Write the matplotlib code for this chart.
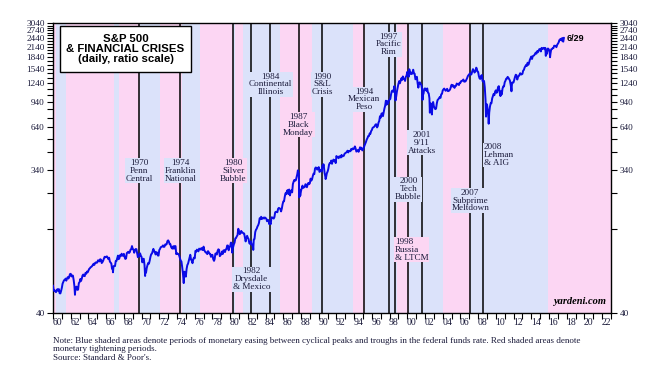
import numpy as np
import matplotlib
matplotlib.use("Agg")
import matplotlib.pyplot as plt
import matplotlib.ticker as mticker
import matplotlib.transforms as mtransforms
from matplotlib.patches import Rectangle

plt.rcParams['font.family'] = ['Liberation Serif', 'DejaVu Serif']

# S&P 500 month-end closes, Jan 1960 .. Jun 2017 (last one is 6/29)
sp500_first = 59.89  # Dec 31, 1959
sp500_monthly = [
    55.6, 56.1, 55.3, 54.4, 55.8, 56.9, 55.5, 56.9, 53.5, 53.4, 55.5, 58.1,
    61.8, 63.4, 65.1, 65.3, 66.6, 64.6, 66.8, 68.1, 66.7, 68.6, 71.3, 71.6,
    68.8, 69.9, 69.6, 65.2, 59.6, 54.8, 58.2, 59.1, 56.3, 56.5, 62.3, 63.1,
    66.2, 64.3, 66.6, 69.8, 70.8, 69.4, 69.1, 72.5, 71.7, 74.0, 73.2, 75.0,
    77.0, 77.8, 79.0, 79.5, 80.4, 81.7, 83.2, 81.8, 84.2, 84.9, 84.4, 84.8,
    87.6, 87.4, 86.2, 89.1, 88.4, 84.1, 85.3, 87.2, 90.0, 92.4, 91.6, 92.4,
    92.9, 91.2, 89.2, 91.1, 86.1, 84.7, 83.6, 77.1, 76.6, 80.2, 80.5, 80.3,
    86.6, 86.8, 90.2, 94.0, 89.1, 90.6, 94.8, 93.6, 96.7, 93.9, 94.0, 96.5,
    92.2, 89.4, 90.2, 97.6, 98.7, 99.6, 97.7, 98.9, 102.7, 103.4, 108.4, 103.9,
    103.0, 98.1, 101.5, 103.7, 103.5, 97.7, 91.8, 95.5, 93.1, 97.2, 93.8, 92.1,
    85.0, 89.5, 89.6, 81.5, 76.6, 72.7, 78.1, 81.5, 84.2, 83.3, 87.2, 92.2,
    95.9, 96.8, 100.3, 104.0, 99.6, 99.7, 95.6, 99.0, 98.3, 94.2, 94.0, 102.1,
    103.9, 106.6, 107.2, 107.7, 109.5, 107.1, 107.4, 111.1, 110.6, 111.6, 116.7, 118.1,
    116.0, 111.7, 111.5, 107.0, 105.0, 104.3, 108.2, 104.3, 108.4, 108.3, 96.0, 97.6,
    96.6, 96.2, 94.0, 90.3, 87.3, 86.0, 79.3, 72.2, 63.5, 73.9, 70.0, 68.6,
    77.0, 81.6, 83.4, 87.3, 91.2, 95.2, 88.8, 86.9, 83.9, 89.0, 91.2, 90.2,
    100.9, 99.7, 102.8, 101.6, 100.2, 104.3, 103.4, 102.9, 105.2, 102.9, 102.1, 107.5,
    102.0, 99.8, 98.4, 98.4, 96.1, 100.5, 98.9, 96.8, 96.5, 92.3, 94.8, 95.1,
    89.3, 87.0, 89.2, 96.8, 97.2, 95.5, 100.7, 103.3, 102.5, 93.2, 94.7, 96.1,
    99.9, 96.3, 101.6, 101.8, 99.1, 102.9, 103.8, 109.3, 109.3, 101.8, 106.2, 107.9,
    114.2, 113.7, 102.1, 106.3, 111.2, 114.2, 121.7, 122.4, 125.5, 127.5, 140.5, 135.8,
    129.6, 131.3, 136.0, 132.8, 132.6, 131.2, 130.9, 122.8, 116.2, 121.9, 126.4, 122.6,
    120.4, 113.1, 112.0, 116.4, 111.9, 109.6, 107.1, 119.5, 120.4, 133.7, 138.5, 140.6,
    145.3, 148.1, 153.0, 164.4, 162.4, 168.1, 162.6, 164.4, 166.1, 163.6, 166.4, 164.9,
    163.4, 157.1, 159.2, 160.1, 150.6, 153.2, 150.7, 166.7, 166.1, 166.1, 163.6, 167.2,
    179.6, 181.2, 180.7, 179.8, 189.6, 191.9, 190.9, 188.6, 182.1, 189.8, 202.2, 211.3,
    211.8, 226.9, 238.9, 235.5, 247.4, 250.8, 236.1, 252.9, 231.3, 244.0, 249.2, 242.2,
    274.1, 284.2, 291.7, 288.4, 290.1, 304.0, 318.7, 329.8, 321.8, 251.8, 230.3, 247.1,
    257.1, 267.8, 258.9, 261.3, 262.2, 273.5, 272.0, 261.5, 271.9, 279.0, 273.7, 277.7,
    297.5, 288.9, 294.9, 309.6, 320.5, 318.0, 346.1, 351.5, 349.2, 340.4, 346.0, 353.4,
    329.1, 331.9, 339.9, 330.8, 361.2, 358.0, 356.2, 322.6, 306.1, 304.0, 322.2, 330.2,
    343.9, 367.1, 375.2, 375.4, 389.8, 371.2, 387.8, 395.4, 387.9, 392.5, 375.2, 417.1,
    408.8, 412.7, 403.7, 415.0, 415.4, 408.1, 424.2, 414.0, 417.8, 418.7, 431.4, 435.7,
    438.8, 443.4, 451.7, 440.2, 450.2, 450.5, 448.1, 463.6, 458.9, 467.8, 461.8, 466.5,
    481.6, 467.1, 445.8, 450.9, 456.5, 444.3, 458.3, 475.5, 462.7, 472.4, 453.7, 459.3,
    470.4, 487.4, 500.7, 514.7, 533.4, 544.8, 562.1, 561.9, 584.4, 581.5, 605.4, 615.9,
    636.0, 640.4, 645.5, 654.2, 669.1, 670.6, 640.0, 652.0, 687.3, 705.3, 757.0, 740.7,
    786.2, 790.8, 757.1, 801.3, 848.3, 885.1, 954.3, 899.5, 947.3, 914.6, 955.4, 970.4,
    980.3, 1049.3, 1101.8, 1111.8, 1090.8, 1133.8, 1120.7, 957.3, 1017.0, 1098.7, 1163.6, 1229.2,
    1279.6, 1238.3, 1286.4, 1335.2, 1301.8, 1372.7, 1328.7, 1320.4, 1282.7, 1362.9, 1388.9, 1469.3,
    1394.5, 1366.4, 1498.6, 1452.4, 1420.6, 1454.6, 1430.8, 1517.7, 1436.5, 1429.4, 1315.0, 1320.3,
    1366.0, 1239.9, 1160.3, 1249.5, 1255.8, 1224.4, 1211.2, 1133.6, 1040.9, 1059.8, 1139.5, 1148.1,
    1130.2, 1106.7, 1147.4, 1076.9, 1067.1, 989.8, 911.6, 916.1, 815.3, 885.8, 936.3, 879.8,
    855.7, 841.2, 848.2, 916.9, 963.6, 974.5, 990.3, 1008.0, 996.0, 1050.7, 1058.2, 1111.9,
    1131.1, 1144.9, 1126.2, 1107.3, 1120.7, 1140.8, 1101.7, 1104.2, 1114.6, 1130.2, 1173.8, 1211.9,
    1181.3, 1203.6, 1180.6, 1156.9, 1191.5, 1191.3, 1234.2, 1220.3, 1228.8, 1207.0, 1249.5, 1248.3,
    1280.1, 1280.7, 1294.8, 1310.6, 1270.1, 1270.2, 1276.7, 1303.8, 1335.9, 1377.9, 1400.6, 1418.3,
    1438.2, 1406.8, 1420.9, 1482.4, 1530.6, 1503.4, 1455.3, 1474.0, 1526.8, 1549.4, 1481.1, 1468.4,
    1378.6, 1330.6, 1322.7, 1385.6, 1400.4, 1280.0, 1267.4, 1282.8, 1166.4, 968.8, 896.2, 903.3,
    825.9, 735.1, 797.9, 872.8, 919.1, 919.3, 987.5, 1020.6, 1057.1, 1036.2, 1095.6, 1115.1,
    1073.9, 1104.5, 1169.4, 1186.7, 1089.4, 1030.7, 1101.6, 1049.3, 1141.2, 1183.3, 1180.6, 1257.6,
    1286.1, 1327.2, 1325.8, 1363.6, 1345.2, 1320.6, 1292.3, 1218.9, 1131.4, 1253.3, 1247.0, 1257.6,
    1312.4, 1365.7, 1408.5, 1397.9, 1310.3, 1362.2, 1379.3, 1406.6, 1440.7, 1412.2, 1416.2, 1426.2,
    1498.1, 1514.7, 1569.2, 1597.6, 1630.7, 1606.3, 1685.7, 1633.0, 1681.6, 1756.5, 1805.8, 1848.4,
    1782.6, 1859.5, 1872.3, 1884.0, 1923.6, 1960.2, 1930.7, 2003.4, 1972.3, 2018.1, 2067.6, 2058.9,
    1995.0, 2104.5, 2067.9, 2085.5, 2107.4, 2063.1, 2103.8, 1972.2, 1920.0, 2079.4, 2080.4, 2043.9,
    1940.2, 1932.2, 2059.7, 2065.3, 2097.0, 2098.9, 2173.6, 2171.0, 2168.3, 2126.2, 2198.8, 2238.8,
    2278.9, 2363.6, 2362.7, 2384.2, 2411.8, 2419.7,
]

# daily highs/lows between month-ends
extreme_date = [1962.48, 1966.77, 1970.40, 1974.76, 1978.18, 1980.24, 1982.61, 1987.65,
                1987.80, 1990.54, 1990.78, 1998.54, 2000.23, 2001.72, 2002.55, 2002.78,
                2007.78, 2008.89, 2009.19, 2010.52, 2011.76, 2015.64, 2016.12]
extreme_val = [52.3, 73.2, 69.3, 62.3, 86.9, 98.2, 102.4, 336.8,
               224.8, 369.0, 295.5, 1186.8, 1527.5, 965.8, 797.7, 776.8,
               1565.2, 752.4, 676.5, 1022.6, 1099.2, 1867.6, 1829.1]

# monetary easing periods (blue), rest is tightening (pink)
ease_start = [1960.37, 1966.90, 1969.70, 1974.60, 1980.30, 1981.50, 1989.20, 1995.20, 2000.20, 2007.10]
ease_end = [1961.50, 1967.50, 1972.05, 1976.60, 1980.60, 1985.60, 1993.90, 1998.80, 2004.07, 2015.90]

event_year = [1969.74, 1974.37, 1980.36, 1982.39, 1984.53, 1987.72, 1990.40, 1995.15,
              1997.88, 1998.56, 2000.12, 2001.61, 2007.11, 2008.58]
event_label = ["1970\nPenn\nCentral", "1974\nFranklin\nNational", "1980\nSilver\nBubble",
               "1982\nDrysdale\n& Mexico", "1984\nContinental\nIllinois", "1987\nBlack\nMonday",
               "1990\nS&L\nCrisis", "1994\nMexican\nPeso", "1997\nPacific\nRim",
               "1998\nRussia\n& LTCM", "2000\nTech\nBubble", "2001\n9/11\nAttacks",
               "2007\nSubprime\nMeltdown", "2008\nLehman\n& AIG"]
# label placement (axes fraction height, alignment)
label_yfrac = [0.490, 0.490, 0.490, 0.116, 0.789, 0.649, 0.789, 0.737, 0.927,
               0.217, 0.427, 0.587, 0.387, 0.545]
label_ha = ['center'] * 9 + ['left', 'center', 'center', 'center', 'left']

ytick_vals = list(range(40, 3041, 100))
ytick_labeled = list(range(40, 3041, 300))
xtick_years = list(range(1960, 2024))
xlabel_years = list(range(1960, 2023, 2))

BLUE_BG = '#dbe2fa'
PINK_BG = '#fcd6f3'

def band_color(x):
    for s, e in zip(ease_start, ease_end):
        if s <= x < e:
            return BLUE_BG
    return PINK_BG

dates = np.concatenate([[1960.0], 1960 + (np.arange(len(sp500_monthly)) + 1) / 12.0, extreme_date])
vals = np.concatenate([[sp500_first], sp500_monthly, extreme_val])
order = np.argsort(dates)
dates, vals = dates[order], vals[order]

fig = plt.figure(figsize=(6.62, 3.75), dpi=100)
ax = fig.add_axes([53 / 662, 1 - 312.7 / 375, 558 / 662, 289.4 / 375])
ax.set_facecolor(PINK_BG)
ax.set_yscale('log')
ax.set_xlim(1960, 2023)
ax.set_ylim(40, 3040)

for s, e in zip(ease_start, ease_end):
    ax.axvspan(s, e, color=BLUE_BG, lw=0, zorder=0)

for yr in event_year:
    ax.axvline(yr, color='black', lw=1.1, zorder=2)

ax.plot(dates, vals, color='#0a0ae6', lw=1.4, zorder=4)
ax.plot(dates[-1], vals[-1], marker=(3, 0, -40), ms=4, color='#0a0ae6', zorder=4)
ax.text(dates[-1] + 0.5, vals[-1], '6/29', fontsize=6.5, fontweight='bold',
        family='Liberation Sans', va='center', ha='left', zorder=5)

trans = mtransforms.blended_transform_factory(ax.transData, ax.transAxes)
for yr, lab, yf, ha in zip(event_year, event_label, label_yfrac, label_ha):
    xt = yr if ha == 'center' else yr + 0.05
    ax.text(xt, yf, lab, transform=trans, ha=ha, va='center', fontsize=6.6,
            linespacing=0.95, color='#1a1a3a', zorder=3,
            bbox=dict(boxstyle='square,pad=0.08', ec='none',
                      fc=band_color(yr + (0.3 if ha == 'center' else 1.5))))

# title box
ax.add_patch(Rectangle((0.0125, 0.831), 0.2348, 0.16, transform=ax.transAxes,
                       fc='white', ec='black', lw=1, zorder=6))
ax.text(0.13, 0.911, 'S&P 500\n& FINANCIAL CRISES\n(daily, ratio scale)', transform=ax.transAxes,
        ha='center', va='center', fontsize=8.2, fontweight='bold', family='Liberation Sans',
        linespacing=1.05, zorder=7)

ax.text(0.9915, 0.022, 'yardeni.com', transform=ax.transAxes, ha='right', va='bottom',
        fontsize=7.5, fontweight='bold', style='italic', zorder=5)

# y axes, ticks every 100, labels every 300
ax.yaxis.set_major_locator(mticker.FixedLocator(ytick_vals))
ax.yaxis.set_minor_locator(mticker.NullLocator())
ax.yaxis.set_major_formatter(mticker.FuncFormatter(
    lambda v, p: str(int(round(v))) if int(round(v)) in ytick_labeled else ''))
ax.tick_params(axis='y', which='major', direction='out', length=4, width=0.8,
               labelsize=6.6, labelcolor='#1a1a3a', left=True, right=True,
               labelleft=True, labelright=True, pad=2)

# x axis: ticks at year starts, labels at mid-year
ax.xaxis.set_major_locator(mticker.FixedLocator(xtick_years))
ax.xaxis.set_major_formatter(mticker.NullFormatter())
ax.xaxis.set_minor_locator(mticker.FixedLocator([y + 0.5 for y in xlabel_years]))
ax.xaxis.set_minor_formatter(mticker.FuncFormatter(lambda v, p: '%02d' % (int(v) % 100)))
ax.tick_params(axis='x', which='major', direction='out', length=4, width=0.8)
ax.tick_params(axis='x', which='minor', length=0, labelsize=7, labelcolor='#1a1a3a', pad=4)

for sp in ax.spines.values():
    sp.set_linewidth(1.0)

fig.text(53 / 662, 1 - 337 / 375,
         "Note: Blue shaded areas denote periods of monetary easing between cyclical peaks and troughs in the federal funds rate. Red shaded areas denote\n"
         "monetary tightening periods.\nSource: Standard & Poor's.",
         ha='left', va='top', fontsize=6.5, linespacing=1.05, color='#1a1a3a')

fig.savefig('out.png', dpi=100)
